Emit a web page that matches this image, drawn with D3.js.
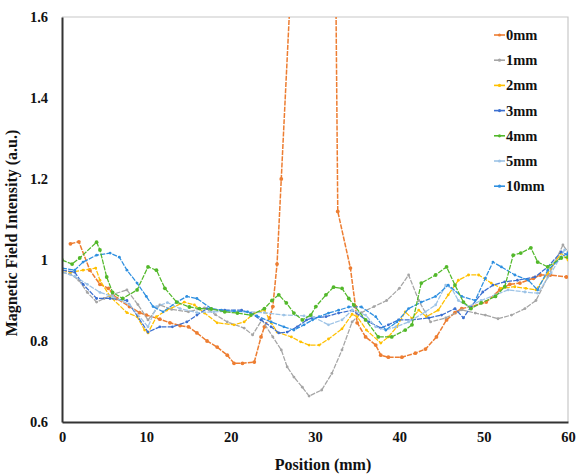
<!DOCTYPE html>
<html>
<head>
<meta charset="utf-8">
<script src="https://cdn.jsdelivr.net/npm/d3@7"></script>
<style>
  body { margin: 0; background: #fff; }
  text { font-family: "Liberation Serif", "Times New Roman", serif; font-weight: bold; }
</style>
</head>
<body>
<div id="chart"></div>
<script>
// series labels and colours
const seriesNames = ["0mm", "1mm", "2mm", "3mm", "4mm", "5mm", "10mm"];
const seriesColors = ["#ed7d31", "#a5a5a5", "#ffc000", "#3b6fd0", "#52b82a", "#9dc3e6", "#2e8fe0"];

// [position (mm), intensity (a.u.)]
const mm0 = [[1,1.04],[2,1.045],[3.3,0.975],[4.5,0.94],[5.5,0.93],[6.5,0.905],[8,0.885],[9.2,0.87],[10,0.864],[11.6,0.854],[12.8,0.845],[14,0.838],[15,0.835],[16,0.82],[17.2,0.80],[18.4,0.785],[19.6,0.765],[20.4,0.745],[21.4,0.745],[22.8,0.748],[23.6,0.81],[24,0.835],[24.6,0.857],[25,0.885],[25.5,0.99],[26,1.2],[28,2.05],[30,2.6],[32,2.8],[32.7,1.12],[34.2,0.98],[34.8,0.885],[35,0.845],[36,0.81],[37.2,0.79],[37.8,0.765],[38.7,0.76],[40.3,0.76],[41.9,0.77],[43.1,0.78],[44.4,0.81],[45.6,0.852],[46.6,0.87],[47.4,0.88],[48.5,0.885],[50.3,0.896],[51.9,0.926],[53.1,0.94],[54.3,0.943],[55.9,0.955],[56.7,0.963],[57.9,0.963],[59.8,0.958]];
const mm1 = [[0,0.97],[1,0.965],[2,0.95],[3,0.92],[4.1,0.896],[5,0.905],[6,0.915],[7.7,0.926],[9,0.89],[10.2,0.852],[11.6,0.889],[13,0.878],[15,0.872],[16.9,0.882],[18.2,0.865],[19.6,0.847],[21.6,0.832],[22.6,0.815],[23.7,0.852],[25,0.81],[26,0.778],[26.7,0.736],[27.5,0.711],[28.5,0.686],[29.3,0.664],[30.8,0.679],[32,0.72],[33.2,0.778],[34.4,0.847],[35.5,0.87],[37,0.885],[38.5,0.9],[40,0.93],[41.1,0.963],[42.3,0.9],[43.7,0.847],[45.5,0.857],[47.4,0.877],[49,0.869],[50.2,0.864],[51.7,0.855],[53.3,0.864],[54.9,0.88],[56.2,0.9],[57.6,0.958],[59.4,1.037],[60,1.02]];
const mm2 = [[0,0.975],[1,0.97],[2.5,0.975],[4,0.98],[4.5,0.95],[5.7,0.91],[7.7,0.87],[8.9,0.86],[9.8,0.827],[10.2,0.82],[11.2,0.86],[12.4,0.876],[14.5,0.896],[15.7,0.889],[16.9,0.869],[18.4,0.845],[20.4,0.84],[21.6,0.847],[22.8,0.869],[24,0.876],[24.8,0.845],[25.5,0.822],[27.2,0.81],[28.3,0.798],[29.3,0.79],[30.5,0.79],[31.6,0.805],[33.2,0.83],[34.4,0.866],[35,0.86],[36.1,0.827],[37.8,0.795],[38.7,0.81],[39.7,0.835],[40.7,0.872],[41.5,0.856],[42.3,0.876],[43.2,0.86],[44.6,0.876],[45.8,0.914],[47,0.95],[48.2,0.963],[49.4,0.963],[50.9,0.943],[52.1,0.93],[53.7,0.934],[55,0.93],[56.2,0.926],[57.6,0.968],[59.2,1.017],[60,1.0]];
const mm3 = [[0,0.975],[1.5,0.97],[2.5,0.94],[4.1,0.905],[5.7,0.905],[7.7,0.9],[10.2,0.822],[11.6,0.835],[13.1,0.835],[14.8,0.847],[16,0.864],[17.2,0.88],[19.3,0.876],[21.3,0.876],[22.4,0.869],[23.6,0.852],[24.8,0.835],[25.7,0.82],[26.7,0.822],[27.9,0.835],[29,0.852],[29.7,0.857],[31.3,0.86],[32.8,0.869],[34.4,0.876],[36.4,0.847],[37.8,0.832],[38.7,0.84],[39.9,0.852],[41.5,0.852],[43.5,0.857],[45,0.864],[46.6,0.88],[47.6,0.857],[48.5,0.885],[49.9,0.921],[51.1,0.938],[52.5,0.946],[54,0.95],[56.1,0.958],[57.6,0.983],[59.2,1.02],[60,1.012]];
const mm4 = [[0,1.0],[1.2,0.99],[2.1,1.005],[4.1,1.044],[4.5,1.025],[5.3,0.958],[6,0.92],[7.2,0.905],[8.9,0.926],[10.2,0.983],[11.2,0.975],[12.2,0.93],[13.6,0.896],[15.1,0.884],[16.3,0.88],[17.7,0.879],[19.3,0.872],[20.8,0.869],[22.4,0.864],[24,0.88],[24.9,0.9],[25.7,0.914],[26.6,0.894],[27.5,0.869],[28.5,0.852],[29.5,0.864],[30.1,0.885],[31.3,0.914],[32.2,0.933],[33.2,0.93],[34,0.905],[34.6,0.889],[36,0.852],[37.5,0.81],[39.1,0.81],[40.7,0.827],[41.5,0.84],[42.6,0.943],[44.3,0.963],[45.6,0.983],[46.6,0.938],[47.6,0.896],[48.5,0.88],[49.7,0.894],[51.4,0.91],[52.5,0.934],[53.5,1.012],[54.4,1.017],[55.6,1.03],[56.4,0.995],[57.6,0.983],[59.2,1.005],[60,1.007]];
const mm5 = [[0,0.97],[1.5,0.96],[3,0.94],[4.5,0.92],[6,0.91],[8,0.89],[10.2,0.835],[11.2,0.885],[12.5,0.895],[14,0.88],[16,0.87],[18,0.872],[20,0.874],[22,0.872],[24,0.87],[26.3,0.864],[28.7,0.862],[29.9,0.858],[31.6,0.84],[33.2,0.852],[34.4,0.876],[36,0.864],[37.2,0.835],[38.4,0.827],[39.6,0.835],[41.1,0.847],[43.1,0.872],[44.3,0.889],[45.5,0.938],[46.2,0.93],[47,0.9],[48.2,0.885],[49.7,0.9],[51.4,0.914],[52.9,0.926],[54.9,0.921],[56.4,0.918],[58,0.968],[59.6,1.025]];
const mm10 = [[0,0.98],[1.5,0.975],[2.5,0.995],[4.1,1.012],[5.7,1.017],[6.8,1.007],[7.7,0.975],[8.9,0.943],[10,0.91],[10.8,0.885],[12,0.872],[13.6,0.896],[14.8,0.91],[16,0.905],[17.7,0.88],[18.9,0.876],[20.4,0.874],[22,0.872],[23.1,0.862],[24.8,0.847],[26.3,0.835],[27.5,0.827],[28.7,0.84],[29.7,0.852],[30.5,0.86],[31.6,0.869],[32.8,0.876],[34,0.884],[35.5,0.884],[37.2,0.86],[38.4,0.827],[39.7,0.847],[41.1,0.88],[42.6,0.896],[44.3,0.91],[45.8,0.938],[47.4,0.91],[49,0.9],[50.2,0.955],[51.1,0.995],[52.1,0.983],[53.7,0.963],[55.3,0.95],[56.4,0.926],[57.6,0.975],[59.2,1.007],[60,1.017]];

const seriesData = [mm0, mm1, mm2, mm3, mm4, mm5, mm10];

const xTicks = [0, 10, 20, 30, 40, 50, 60];
const yTicks = [0.6, 0.8, 1, 1.2, 1.4, 1.6];

const width = 576, height = 476;
const margin = {top: 17, right: 8, bottom: 54, left: 62};

const svg = d3.select("#chart").append("svg")
  .attr("width", width)
  .attr("height", height);

const x = d3.scaleLinear().domain([0, 60]).range([margin.left, width - margin.right]);
const y = d3.scaleLinear().domain([0.6, 1.6]).range([height - margin.bottom, margin.top]);

svg.append("defs").append("clipPath").attr("id", "plot")
  .append("rect")
  .attr("x", margin.left).attr("y", margin.top)
  .attr("width", x(60) - x(0)).attr("height", y(0.6) - y(1.6));

// light frame top / right
svg.append("path")
  .attr("d", `M${x(0)},${y(1.6)}H${x(60)}V${y(0.6)}`)
  .attr("fill", "none").attr("stroke", "#c8c8c8").attr("stroke-width", 1.2);

const line = d3.line().x(d => x(d[0])).y(d => y(d[1]));

const g = svg.append("g").attr("clip-path", "url(#plot)");

// green ends up on top in the reference
const order = [0, 1, 2, 3, 5, 6, 4];
order.forEach(i => {
  const s = g.append("g");
  s.append("path")
    .datum(seriesData[i])
    .attr("d", line)
    .attr("fill", "none")
    .attr("stroke", seriesColors[i])
    .attr("stroke-width", i == 0 ? 1.5 : 1.25)
    .attr("stroke-dasharray", "5,1.2");
  s.selectAll("circle")
    .data(seriesData[i])
    .join("circle")
    .attr("cx", d => x(d[0]))
    .attr("cy", d => y(d[1]))
    .attr("r", i == 0 || i == 4 ? 1.9 : 1.4)
    .attr("fill", seriesColors[i]);
});

// axes
const xAxis = svg.append("g")
  .attr("transform", `translate(0,${y(0.6)})`)
  .call(d3.axisBottom(x).tickValues(xTicks).tickSize(0).tickPadding(10));
const yAxis = svg.append("g")
  .attr("transform", `translate(${x(0)},0)`)
  .call(d3.axisLeft(y).tickValues(yTicks).tickSize(0).tickPadding(14).tickFormat(d => d == 1 ? "1" : d3.format(".1f")(d)));

[xAxis, yAxis].forEach(a => {
  a.select(".domain").attr("stroke", "#333").attr("stroke-width", 2);
  a.selectAll("text")
    .attr("font-family", "Liberation Serif, serif")
    .attr("font-weight", "bold")
    .attr("font-size", 14.5)
    .attr("fill", "#111");
});

svg.append("text")
  .attr("x", 323)
  .attr("y", 470)
  .attr("text-anchor", "middle")
  .attr("font-size", 16)
  .attr("fill", "#111")
  .text("Position (mm)");

svg.append("text")
  .attr("transform", `translate(17,233) rotate(-90)`)
  .attr("text-anchor", "middle")
  .attr("font-size", 16)
  .attr("fill", "#111")
  .text("Magnetic Field Intensity (a.u.)");

// legend
const legend = svg.append("g").attr("transform", "translate(494,35)");
seriesNames.forEach((name, i) => {
  const row = legend.append("g").attr("transform", `translate(0,${i * 25.2})`);
  row.append("line")
    .attr("x1", 0).attr("x2", 11)
    .attr("stroke", seriesColors[i]).attr("stroke-width", 1.6);
  row.append("circle").attr("cx", 5.5).attr("r", 1.6).attr("fill", seriesColors[i]);
  row.append("text")
    .attr("x", 12).attr("dy", "0.35em")
    .attr("font-size", 14.5)
    .attr("fill", "#111")
    .text(name);
});
</script>
</body>
</html>
